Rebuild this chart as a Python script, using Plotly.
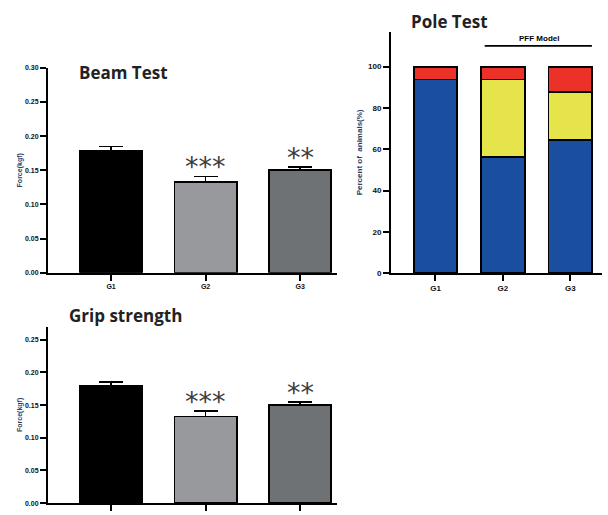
import plotly.graph_objects as go

W, H = 608, 515

groups = ["G1", "G2", "G3"]
beam_mean = [0.179, 0.1325, 0.1505]
beam_sem = [0.006, 0.0085, 0.0045]
grip_mean = [0.179, 0.1325, 0.1505]
grip_sem = [0.006, 0.0085, 0.0045]
bar_colors = ["#000000", "#97999c", "#6f7274"]
stars = ["", "***", "**"]

pole_blue = [93.75, 56.25, 64.3]
pole_yellow = [0.0, 37.5, 23.5]
pole_red = [6.25, 6.25, 12.2]

def px_x(p):
    return p / W

def px_y(p):
    return 1 - p / H

fig = go.Figure()

# Beam test
fig.add_trace(go.Bar(x=groups, y=beam_mean, xaxis="x", yaxis="y", width=0.66,
                     marker=dict(color=bar_colors, line=dict(color="black", width=1.8)),
                     error_y=dict(type="data", array=beam_sem, arrayminus=[0, 0, 0], symmetric=False,
                                  color="black", thickness=1.6, width=12),
                     showlegend=False))
# Grip strength
fig.add_trace(go.Bar(x=groups, y=grip_mean, xaxis="x2", yaxis="y2", width=0.66,
                     marker=dict(color=bar_colors, line=dict(color="black", width=1.8)),
                     error_y=dict(type="data", array=grip_sem, arrayminus=[0, 0, 0], symmetric=False,
                                  color="black", thickness=1.6, width=12),
                     showlegend=False))
# Pole test stacked
for vals, col in [(pole_blue, "#1a4f9f"), (pole_yellow, "#e6e44b"), (pole_red, "#ec3129")]:
    fig.add_trace(go.Bar(x=groups, y=vals, xaxis="x3", yaxis="y3", width=0.645,
                         marker=dict(color=col, line=dict(color="black", width=1.8)),
                         showlegend=False))

def axstyle(size):
    return dict(showline=True, linecolor="black", linewidth=2, ticks="outside",
                ticklen=6, tickwidth=1.5, tickcolor="black", showgrid=False, zeroline=False,
                tickfont=dict(family="Liberation Sans", size=size, color="#111111", weight="bold"))

fig.update_layout(
    width=W, height=H, margin=dict(l=0, r=0, t=0, b=0),
    paper_bgcolor="white", plot_bgcolor="white",
    barmode="stack", showlegend=False,
    xaxis=dict(domain=[px_x(48), px_x(337)], anchor="y", type="category",
               range=[-0.667, 2.39], **axstyle(7)),
    yaxis=dict(domain=[px_y(273.5), px_y(65)], anchor="x", range=[0, 0.30],
               tickvals=[0, 0.05, 0.10, 0.15, 0.20, 0.25, 0.30], tickformat=".2f",
               title=dict(text="Force(kgf)", font=dict(family="Liberation Sans", size=7, weight="bold"),
                          standoff=2), **axstyle(7)),
    xaxis2=dict(domain=[px_x(48), px_x(337)], anchor="y2", type="category",
                range=[-0.667, 2.39], showticklabels=False, **axstyle(7)),
    yaxis2=dict(domain=[px_y(508), px_y(328.4)], anchor="x2", range=[0, 0.27],
                tickvals=[0, 0.05, 0.10, 0.15, 0.20, 0.25], tickformat=".2f",
                title=dict(text="Force(kgf)", font=dict(family="Liberation Sans", size=7, weight="bold"),
                           standoff=2), **axstyle(7)),
    xaxis3=dict(domain=[px_x(391), px_x(602)], anchor="y3", type="category",
                range=[-0.66, 2.47], **axstyle(8)),
    yaxis3=dict(domain=[px_y(274), px_y(28)], anchor="x3", range=[0, 117],
                tickvals=[0, 20, 40, 60, 80, 100],
                title=dict(text="Percent of  animals(%)", font=dict(family="Liberation Sans", size=8, weight="bold"),
                           standoff=4), **axstyle(8)),
)

title_font = dict(family="Open Sans", size=17, color="#222222", weight="bold")
fig.add_annotation(text="Beam Test", xref="paper", yref="paper", x=px_x(77), y=px_y(70),
                   xanchor="left", yanchor="middle", showarrow=False, font=title_font)
fig.add_annotation(text="Grip strength", xref="paper", yref="paper", x=px_x(67), y=px_y(317),
                   xanchor="left", yanchor="middle", showarrow=False, font=title_font)
fig.add_annotation(text="Pole Test", xref="paper", yref="paper", x=px_x(409), y=px_y(18),
                   xanchor="left", yanchor="middle", showarrow=False, font=title_font)

star_font = dict(family="DejaVu Sans", size=27, color="#3c3c3c")
for i, s in enumerate(stars):
    if not s:
        continue
    fig.add_annotation(text=s, x=groups[i], y=beam_mean[i] + beam_sem[i], xref="x", yref="y",
                       yanchor="bottom", yshift=-8, showarrow=False, font=star_font)
    fig.add_annotation(text=s, x=groups[i], y=grip_mean[i] + grip_sem[i], xref="x2", yref="y2",
                       yanchor="bottom", yshift=-8, showarrow=False, font=star_font)

# PFF Model bracket
fig.add_shape(type="line", xref="x3", yref="y3", x0=0.73, x1=2.32, y0=110, y1=110,
              line=dict(color="black", width=1.8))
fig.add_annotation(text="PFF Model", xref="x3", yref="y3", x=1.53, y=110, yanchor="bottom",
                   yshift=1, showarrow=False,
                   font=dict(family="Liberation Sans", size=8, color="black", weight="bold"))

fig.write_html("out.html", config={"displayModeBar": False},
               post_script="document.body.style.margin='0';document.body.style.overflow='hidden';")
